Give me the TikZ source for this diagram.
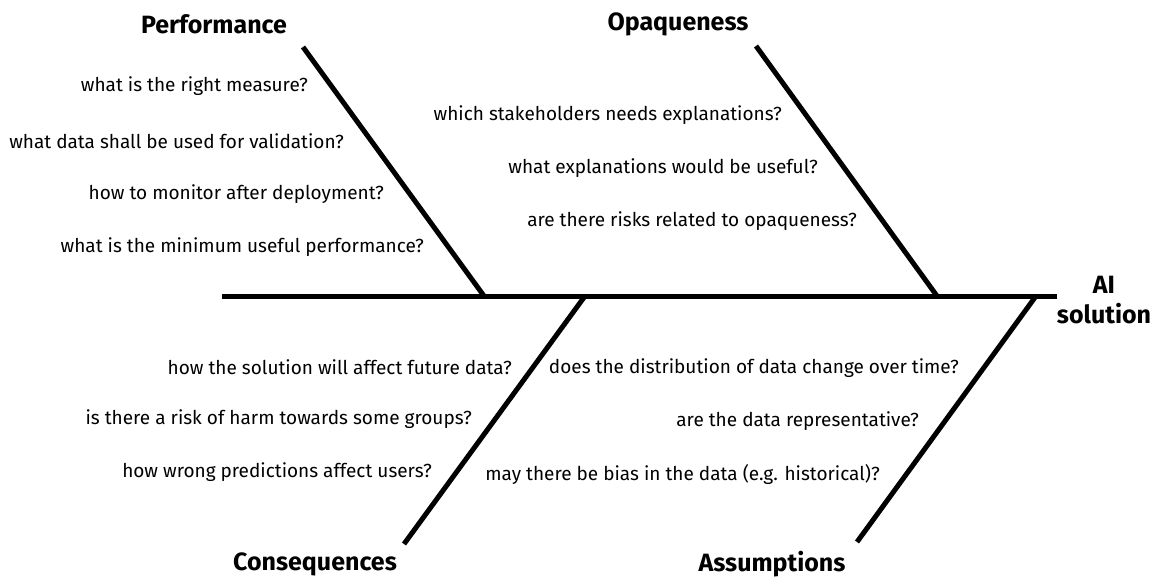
\documentclass[tikz,border=0pt]{standalone}
\usepackage{fontspec}
\setmainfont{Fira Sans}
\begin{document}
\begin{tikzpicture}[x=1pt,y=-1pt,
  bone/.style={line width=5pt},
  q/.style={anchor=east,inner sep=0pt,font=\fontsize{19}{22}\selectfont},
  ttl/.style={inner sep=0pt,font=\fontsize{25}{30}\selectfont\bfseries}]
\useasboundingbox (0,0) rectangle (1156,579);
% spine
\coordinate (s0) at (222,296);
\coordinate (s1) at (1057,296);
\draw[bone] (s0) -- (s1);
% bones
\coordinate (pt) at (303,47);
\coordinate (pb) at (484,296);
\coordinate (ot) at (756,46);
\coordinate (ob) at (937,296);
\coordinate (ct) at (585,296);
\coordinate (cb) at (404,544);
\coordinate (at) at (1036,296);
\coordinate (ab) at (857,542);
\draw[bone] (pt) -- (pb);
\draw[bone] (ot) -- (ob);
\draw[bone] (ct) -- (cb);
\draw[bone] (at) -- (ab);
% titles
\node[ttl] (tp) at (214,24) {Performance};
\node[ttl] (to) at (678,24) {Opaqueness};
\node[ttl] (tc) at (315,564) {Consequences};
\node[ttl] (ta) at (772,564) {Assumptions};
\node[ttl,align=center] (tai) at (1104,300) {AI\\solution};
% performance
\node[q] (p1) at (308,86) {what is the right measure?};
\node[q] (p2) at (344,141) {what data shall be used for validation?};
\node[q] (p3) at (384,194) {how to monitor after deployment?};
\node[q] (p4) at (424,247) {what is the minimum useful performance?};
% opaqueness
\node[q] (o1) at (782,115) {which stakeholders needs explanations?};
\node[q] (o2) at (818,168) {what explanations would be useful?};
\node[q] (o3) at (857,221) {are there risks related to opaqueness?};
% consequences
\node[q] (c1) at (512,367) {how the solution will affect future data?};
\node[q] (c2) at (472,419) {is there a risk of harm towards some groups?};
\node[q] (c3) at (432,472) {how wrong predictions affect users?};
% assumptions
\node[q] (a1) at (959,368) {does the distribution of data change over time?};
\node[q] (a2) at (919,421) {are the data representative?};
\node[q] (a3) at (880,474) {may there be bias in the data (e.g. historical)?};
\end{tikzpicture}
\end{document}
